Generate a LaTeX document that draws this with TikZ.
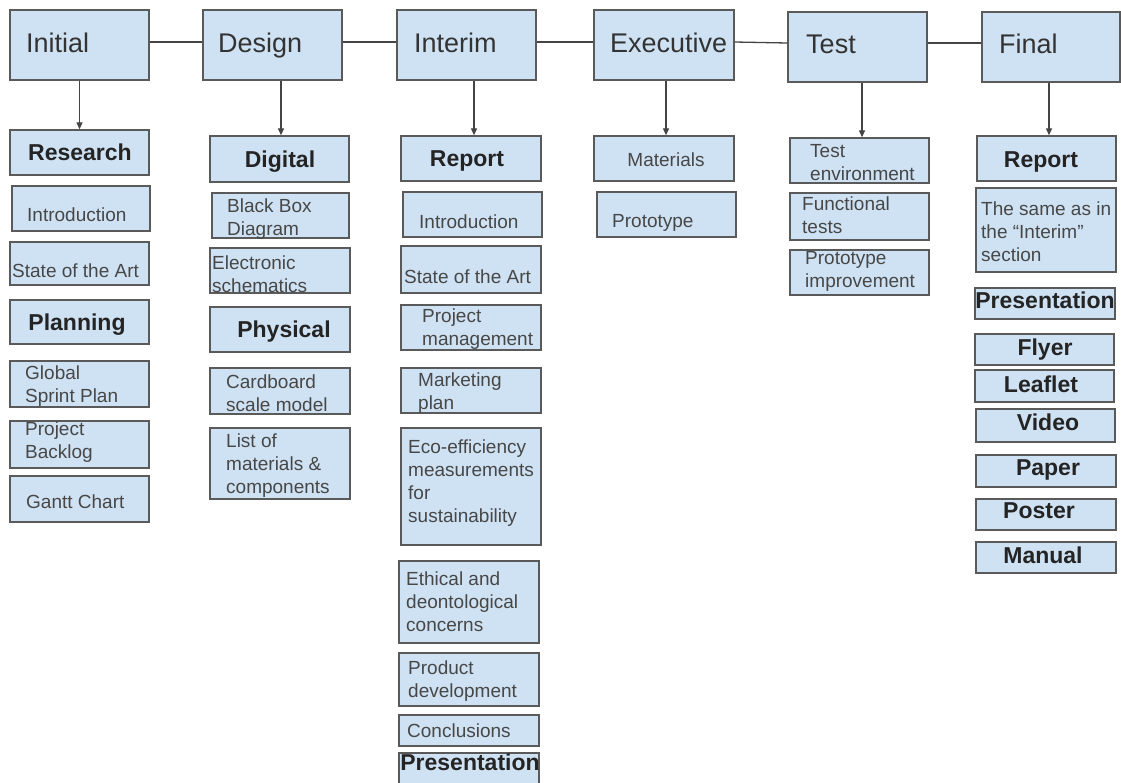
\documentclass[tikz,border=0pt]{standalone}
\usepackage{fontspec}
\setmainfont{Liberation Sans}
\usetikzlibrary{arrows.meta,calc}
\definecolor{boxfill}{HTML}{CFE2F3}
\definecolor{boxline}{HTML}{5A5A5A}
\definecolor{ink}{HTML}{333333}
\definecolor{wire}{HTML}{444444}
% multi-line text, first baseline is the anchor
\newcommand\ml[1]{\begin{tabular}[t]{@{}l@{}}#1\end{tabular}}
% box from (x1,y1) to (x2,y2)
\newcommand\bx[5]{\node[box, minimum width={(#4-#2)*1pt}, minimum height={(#5-#3)*1pt}] (#1) at ({(#2+#4)/2},{(#3+#5)/2}) {};}
\tikzset{
  box/.style={draw=boxline, fill=boxfill, line width=1.4pt, inner sep=0pt},
  phase/.style={anchor=base west, inner sep=0pt, text=ink, font=\fontsize{27}{32}\selectfont},
  head/.style={anchor=base, inner sep=0pt, text=ink!70!black, font=\fontsize{23}{27}\selectfont\bfseries},
  item/.style={anchor=base west, inner sep=0pt, text=ink!90, font=\fontsize{19}{23}\selectfont},
  itemc/.style={item, anchor=base},
  link/.style={draw=wire, line width=1.3pt},
  arr/.style={draw=wire, line width=1.3pt, -{Triangle[length=7pt,width=6pt]}},
}
\begin{document}
\begin{tikzpicture}[x=1pt,y=-1pt]
\useasboundingbox (0,0) rectangle (1121,782);
\fill[white] (0,0) rectangle (1121,782);

% ---- Initial ----
\bx{initial}{10}{10}{149}{80}
\node[phase] (initial-t) at (26,52) {Initial};
\bx{research}{10}{130}{149}{175}
\node[head] (research-t) at (80,160) {Research};
\bx{i-intro}{12}{186}{150}{231}
\node[item] (i-intro-t) at (27,221) {Introduction};
\bx{i-state}{10}{242}{149}{285}
\node[item] (i-state-t) at (12,277) {State of the Art};
\bx{planning}{10}{300}{149}{344}
\node[head] (planning-t) at (77,330) {Planning};
\bx{sprint}{10}{361}{149}{407}
\node[item] (sprint-t) at (25,379) {\ml{Global\\Sprint Plan}};
\bx{backlog}{10}{421}{149}{468}
\node[item] (backlog-t) at (25,435) {\ml{Project\\Backlog}};
\bx{gantt}{10}{476}{149}{522}
\node[item] (gantt-t) at (26,508) {Gantt Chart};

% ---- Design ----
\bx{design}{203}{10}{342}{80}
\node[phase] (design-t) at (218,52) {Design};
\bx{digital}{210}{136}{349}{182}
\node[head] (digital-t) at (280,167) {Digital};
\bx{blackbox}{212}{193}{349}{238}
\node[item] (blackbox-t) at (227,212) {\ml{Black Box\\Diagram}};
\bx{schematics}{210}{248}{350}{293}
\node[item] (schematics-t) at (212,269) {\ml{Electronic\\schematics}};
\bx{physical}{210}{307}{350}{352}
\node[head] (physical-t) at (284,337) {Physical};
\bx{cardboard}{210}{368}{350}{414}
\node[item] (cardboard-t) at (226,388) {\ml{Cardboard\\scale model}};
\bx{matlist}{210}{428}{350}{499}
\node[item] (matlist-t) at (226,447) {\ml{List of\\materials \&\\components}};

% ---- Interim ----
\bx{interim}{397}{10}{536}{80}
\node[phase] (interim-t) at (414,52) {Interim};
\bx{report}{401}{136}{541}{181}
\node[head] (report-t) at (467,166) {Report};
\bx{r-intro}{403}{192}{542}{237}
\node[item] (r-intro-t) at (419,228) {Introduction};
\bx{r-state}{401}{246}{541}{293}
\node[item] (r-state-t) at (404,283) {State of the Art};
\bx{r-pm}{401}{305}{541}{350}
\node[item] (r-pm-t) at (422,322) {\ml{Project\\management}};
\bx{r-mkt}{401}{368}{541}{413}
\node[item] (r-mkt-t) at (418,386) {\ml{Marketing\\plan}};
\bx{r-eco}{401}{428}{541}{545}
\node[item] (r-eco-t) at (408,453) {\ml{Eco-efficiency\\measurements\\for\\sustainability}};
\bx{r-ethic}{399}{561}{539}{643}
\node[item] (r-ethic-t) at (406,585) {\ml{Ethical and\\deontological\\concerns}};
\bx{r-prod}{399}{653}{539}{706}
\node[item] (r-prod-t) at (408,674) {\ml{Product\\development}};
\bx{r-concl}{399}{715}{539}{746}
\node[item] (r-concl-t) at (407,737) {Conclusions};
\bx{r-pres}{399}{753}{539}{790}
\node[head] (r-pres-t) at (470,770) {Presentation};

% ---- Executive ----
\bx{executive}{594}{10}{734}{80}
\node[phase] (executive-t) at (610,52) {Executive};
\bx{materials}{594}{136}{734}{181}
\node[itemc] (materials-t) at (666,166) {Materials};
\bx{prototype}{597}{192}{736}{237}
\node[item] (prototype-t) at (612,227) {Prototype};

% ---- Test ----
\bx{test}{788}{12}{927}{82}
\node[phase] (test-t) at (806,53) {Test};
\bx{testenv}{790}{138}{929}{183}
\node[item] (testenv-t) at (810,157) {\ml{Test\\environment}};
\bx{functional}{790}{193}{929}{240}
\node[item] (functional-t) at (802,210) {\ml{Functional\\tests}};
\bx{improve}{790}{250}{929}{295}
\node[item] (improve-t) at (805,264) {\ml{Prototype\\improvement}};

% ---- Final ----
\bx{final}{982}{12}{1120}{82}
\node[phase] (final-t) at (999,53) {Final};
\bx{f-report}{977}{136}{1116}{181}
\node[head] (f-report-t) at (1041,167) {Report};
\bx{f-same}{976}{188}{1116}{272}
\node[item] (f-same-t) at (981,215) {\ml{The same as in\\the “Interim”\\section}};
\bx{f-pres}{975}{288}{1115}{319}
\node[head] (f-pres-t) at (1045,308) {Presentation};
\bx{flyer}{975}{334}{1114}{365}
\node[head] (flyer-t) at (1045,355) {Flyer};
\bx{leaflet}{975}{370}{1114}{402}
\node[head] (leaflet-t) at (1041,392) {Leaflet};
\bx{video}{976}{409}{1115}{442}
\node[head] (video-t) at (1048,430) {Video};
\bx{paper}{976}{455}{1116}{487}
\node[head] (paper-t) at (1048,475) {Paper};
\bx{poster}{976}{499}{1116}{530}
\node[head] (poster-t) at (1039,518) {Poster};
\bx{manual}{976}{542}{1116}{573}
\node[head] (manual-t) at (1043,563) {Manual};

% ---- timeline links ----
\draw[link] ([yshift=3pt]initial.east) -- ([yshift=3pt]design.west);
\draw[link] ([yshift=3pt]design.east) -- ([yshift=3pt]interim.west);
\draw[link] ([yshift=3pt]interim.east) -- ([yshift=3pt]executive.west);
\draw[link] ([yshift=3pt]executive.east) -- ([yshift=4pt]test.west);
\draw[link] ([yshift=4pt]test.east) -- ([yshift=4pt]final.west);

% ---- phase to first item ----
\draw[arr] (initial.south -| research.north) -- (research.north);
\draw[arr] ([xshift=1.5pt]design.south -| digital.north) -- ([xshift=1.5pt]digital.north);
\draw[arr] ([xshift=3pt]interim.south -| report.north) -- ([xshift=3pt]report.north);
\draw[arr] ([xshift=2pt]executive.south -| materials.north) -- ([xshift=2pt]materials.north);
\draw[arr] ([xshift=2.5pt]test.south -| testenv.north) -- ([xshift=2.5pt]testenv.north);
\draw[arr] ([xshift=2.5pt]final.south -| f-report.north) -- ([xshift=2.5pt]f-report.north);
\end{tikzpicture}
\end{document}
